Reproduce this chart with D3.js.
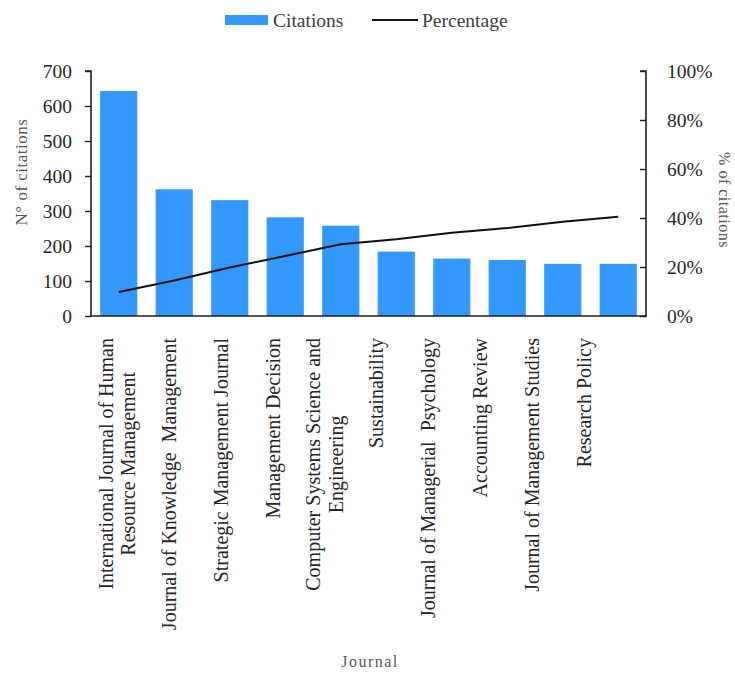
<!DOCTYPE html>
<html>
<head>
<meta charset="utf-8">
<script src="https://cdn.jsdelivr.net/npm/d3@7/dist/d3.min.js"></script>
<style>
  html, body { margin: 0; padding: 0; background: #fff; }
  svg { display: block; font-family: "Liberation Serif", "Times New Roman", serif; }
  svg text { font-family: "Liberation Serif", "Times New Roman", serif; }
</style>
</head>
<body>
<svg id="chart" width="735" height="673"></svg>
<script>
// ---- data ----
const journals = [
  ["International Journal of Human", "Resource Management"],
  ["Journal of Knowledge  Management"],
  ["Strategic Management Journal"],
  ["Management Decision"],
  ["Computer Systems Science and", "Engineering"],
  ["Sustainability"],
  ["Journal of Managerial  Psychology"],
  ["Accounting Review"],
  ["Journal of Management Studies"],
  ["Research Policy"]
];
const citations = [643, 362, 331, 282, 258, 184, 164, 160, 149, 149];
const percentage = [9.8, 14.5, 19.8, 24.5, 29.3, 31.3, 34.0, 35.9, 38.5, 40.5];
const leftTicks = [0, 100, 200, 300, 400, 500, 600, 700];
const rightTicks = [0, 20, 40, 60, 80, 100];
const seriesNames = ["Citations", "Percentage"];

// ---- layout ----
const svg = d3.select("#chart");
const m = { left: 91, right: 646, top: 71, bottom: 316 };
const cats = journals.map(d => d.join(" "));
const x = d3.scaleBand().domain(cats).range([m.left, m.right]).paddingInner(0.33).paddingOuter(0.165);
const yL = d3.scaleLinear().domain([0, 700]).range([m.bottom, m.top]);
const yR = d3.scaleLinear().domain([0, 100]).range([m.bottom, m.top]);
const labelX = d3.scalePoint().domain(cats)
  .range([x(cats[0]) + x.bandwidth() / 2 - 2, x(cats[cats.length - 1]) + x.bandwidth() / 2 - 34]);

const barColor = "#3399ff";
const axisColor = "#1e1e1e";
const tickText = "#262626";
const titleText = "#595959";

// bars
svg.append("g").selectAll("rect").data(citations).join("rect")
  .attr("x", (d, i) => x(cats[i]))
  .attr("y", d => yL(d))
  .attr("width", x.bandwidth())
  .attr("height", d => yL(0) - yL(d))
  .attr("fill", barColor);

// line
const line = d3.line()
  .x((d, i) => x(cats[i]) + x.bandwidth() / 2)
  .y(d => yR(d));
svg.append("path").datum(percentage)
  .attr("d", line)
  .attr("fill", "none")
  .attr("stroke", "#111")
  .attr("stroke-width", 2);

// left axis
const gL = svg.append("g").attr("transform", `translate(${m.left},0)`)
  .call(d3.axisLeft(yL).tickValues(leftTicks).tickSize(6).tickPadding(13).tickFormat(d3.format("d")));
gL.attr("font-family", null);
gL.select(".domain").attr("stroke", axisColor).attr("stroke-width", 1.6).attr("d", `M-6,${m.top}H0V${m.bottom}`);
gL.selectAll(".tick line").attr("stroke", axisColor).attr("stroke-width", 1.4);
gL.selectAll(".tick text").attr("fill", tickText).style("font-size", "19.5px");

// right axis
const gR = svg.append("g").attr("transform", `translate(${m.right},0)`)
  .call(d3.axisRight(yR).tickValues(rightTicks).tickSize(-6).tickPadding(21).tickFormat(d => d + "%"));
gR.attr("font-family", null);
gR.select(".domain").attr("stroke", axisColor).attr("stroke-width", 1.6).attr("d", `M-6,${m.top}H0V${m.bottom}`);
gR.selectAll(".tick line").attr("stroke", axisColor).attr("stroke-width", 1.4);
gR.selectAll(".tick text").attr("fill", tickText).style("font-size", "19.5px");

// bottom axis line
svg.append("line")
  .attr("x1", m.left - 1).attr("x2", m.right + 1)
  .attr("y1", m.bottom).attr("y2", m.bottom)
  .attr("stroke", axisColor).attr("stroke-width", 1.6);

// x labels (rotated, multi-line centered block aligned to top)
const labTop = 338;
const lineGap = 22.5;
journals.forEach((lines, i) => {
  const cx = labelX(cats[i]);
  const g = svg.append("g");
  const texts = lines.map(t => g.append("text").text(t)
    .style("font-size", "20px").attr("fill", tickText).attr("xml:space", "preserve"));
  const lens = texts.map(t => t.node().getComputedTextLength());
  const maxLen = d3.max(lens);
  const n = lines.length;
  texts.forEach((t, k) => {
    const off = (k - (n - 1) / 2) * lineGap;
    const bx = cx + off + 7;
    const cy = labTop + maxLen / 2;
    t.attr("text-anchor", "middle")
      .attr("transform", `translate(${bx},${cy}) rotate(-90)`);
  });
});

// axis titles
svg.append("text").text("N° of citations")
  .attr("transform", `translate(27,172) rotate(-90)`)
  .attr("text-anchor", "middle").attr("fill", titleText)
  .style("font-size", "17px").style("letter-spacing", "0.5px");
svg.append("text").text("% of citations")
  .attr("transform", `translate(719,200) rotate(90)`)
  .attr("text-anchor", "middle").attr("fill", titleText)
  .style("font-size", "16px").style("letter-spacing", "0.5px");
svg.append("text").text("Journal")
  .attr("x", 370).attr("y", 667)
  .attr("text-anchor", "middle").attr("fill", titleText)
  .style("font-size", "16px").style("letter-spacing", "1.5px");

// legend
const lg = svg.append("g");
lg.append("rect").attr("x", 225).attr("y", 15).attr("width", 43).attr("height", 10).attr("fill", barColor);
lg.append("text").text(seriesNames[0]).attr("x", 273).attr("y", 27)
  .attr("fill", "#404040").style("font-size", "19.5px");
lg.append("line").attr("x1", 372).attr("x2", 418).attr("y1", 20).attr("y2", 20)
  .attr("stroke", "#111").attr("stroke-width", 2);
lg.append("text").text(seriesNames[1]).attr("x", 422).attr("y", 27)
  .attr("fill", "#404040").style("font-size", "19.5px");
</script>
</body>
</html>
